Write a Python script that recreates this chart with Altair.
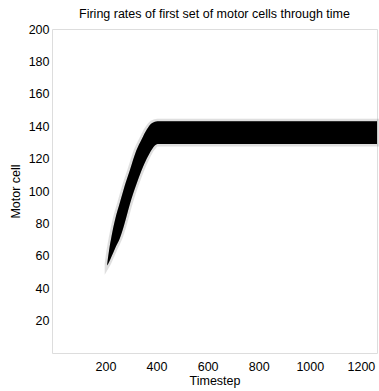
import altair as alt
import pandas as pd

# Timestep knots
timestep = [207, 214, 224, 239, 257, 275, 296, 321, 342, 362, 383, 404, 1263]
# upper and lower edge of the active (firing) band of motor cells
upper = [55, 63, 72, 83, 93, 103, 113, 125, 132, 138, 142, 143, 143]
lower = [54, 56, 59.5, 65, 71, 80, 92, 104, 113, 120, 126, 129, 129]

x_ticks = [200, 400, 600, 800, 1000, 1200]
y_ticks = [20, 40, 60, 80, 100, 120, 140, 160, 180, 200]

df = pd.DataFrame({"t": timestep, "up": upper, "lo": lower})

FONT = "Liberation Sans"
FS = 12.5

xenc = alt.X("t:Q", scale=alt.Scale(domain=[-9, 1263], nice=False, zero=False),
             axis=alt.Axis(values=x_ticks, format="d", title="Timestep", grid=False, ticks=False,
                           labelPadding=7, titlePadding=2, domain=False,
                           labelFontSize=FS, titleFontSize=FS, titleFontWeight="normal",
                           labelColor="black", titleColor="black", labelFont=FONT, titleFont=FONT))
yenc = alt.Y("lo:Q", scale=alt.Scale(domain=[0, 200], nice=False),
             axis=alt.Axis(values=y_ticks, format="d", title="Motor cell", grid=False, ticks=False,
                           labelPadding=3, titlePadding=6, domain=False,
                           labelFontSize=FS, titleFontSize=FS, titleFontWeight="normal",
                           labelColor="black", titleColor="black", labelFont=FONT, titleFont=FONT))

fringe = alt.Chart(df).mark_area(color="#666666", opacity=0.45, stroke="#666666",
                                 strokeWidth=5, strokeOpacity=0.45, interpolate="monotone").encode(
    x=xenc, y=yenc, y2="up:Q")
core = alt.Chart(df).mark_area(color="black", interpolate="monotone").encode(
    x=xenc, y=yenc, y2="up:Q")

chart = alt.layer(fringe, core).properties(
    width=325, height=324,
    title=alt.TitleParams("Firing rates of first set of motor cells through time",
                          fontSize=FS, fontWeight="normal", font=FONT, color="black",
                          offset=3, anchor="middle"),
    autosize=alt.AutoSizeParams(type="none"),
    padding={"left": 52, "top": 29, "right": 2, "bottom": 38},
).configure_view(stroke="black", strokeWidth=1.2, clip=True).configure(background="white")

chart.save("out.html", embed_options={"renderer": "svg", "actions": False})
